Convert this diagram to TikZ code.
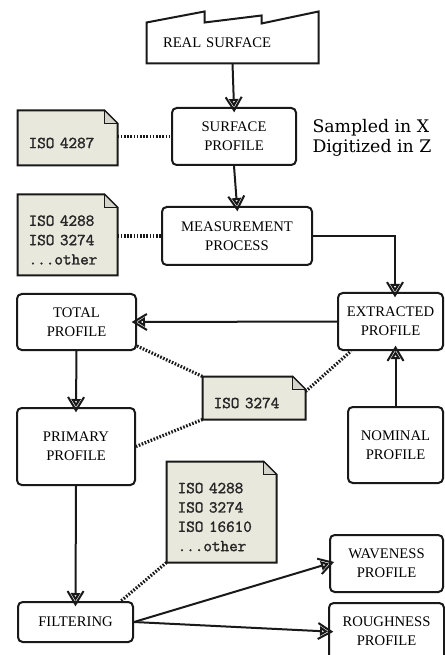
\documentclass[tikz,border=0pt]{standalone}
\usepackage{fontspec}
\setmainfont{Liberation Serif}
\setmonofont[AutoFakeBold=1.6]{Latin Modern Mono}
\newfontfamily\sidefont{DejaVu Serif}
\usetikzlibrary{arrows.meta,backgrounds}

\definecolor{notefill}{RGB}{232,232,220}
\definecolor{notefold}{RGB}{212,212,202}
\definecolor{inkline}{RGB}{25,25,25}

\tikzset{every picture/.style={line width=0.75pt}}
\tikzset{
  flowbox/.style={draw=inkline, line width=1.5pt, rounded corners=3.5pt, fill=white, align=center, inner sep=0pt, font=\fontsize{11}{14.25}\selectfont},
  isonote/.style={inner xsep=8pt, inner ysep=0pt, align=left, text=black!85, font=\ttfamily\bfseries\fontsize{12.5}{14.5}\selectfont},
  flowarrow/.style={draw=inkline, line width=1.5pt, -{Straight Barb[length=10pt,width=12pt,sep=-10pt] Triangle[open,fill=white,length=6pt,width=7pt]}},
  isolink/.style={draw=inkline, line width=2.4pt, dash pattern=on 1.2pt off 1.2pt},
}

% folded sheet behind an ISO note
\newcommand{\isosheet}[1]{%
  \filldraw[draw=inkline, fill=notefill, line width=1.5pt]
    (#1.south west) -- ([shift={(0,-10)}]#1.north west) -- ([shift={(-13,-10)}]#1.north east)
    -- ([shift={(0,3)}]#1.north east) -- (#1.south east) -- cycle;
  \filldraw[draw=inkline, fill=notefold, line width=0.6pt]
    ([shift={(-13,-10)}]#1.north east) |- ([shift={(0,3)}]#1.north east) -- cycle;
}

\begin{document}
\begin{tikzpicture}[x=0.75pt,y=0.75pt,yscale=-1,xscale=1]
\useasboundingbox (0,0) rectangle (444,655);

% Real surface
\node[inner xsep=12pt, inner ysep=0pt, minimum width=128.25pt, minimum height=30pt, text width=104.25pt, align=left, font=\fontsize{11}{14.25}\selectfont] (real) at (232.5,43) {REAL SURFACE};

% Profile boxes
\node[flowbox, minimum width=93pt, minimum height=42.75pt] (surf) at (234,136.5) {SURFACE\\PROFILE};
\node[flowbox, minimum width=112.5pt, minimum height=43.5pt] (meas) at (237,236) {MEASUREMENT\\PROCESS};
\node[flowbox, minimum width=78.75pt, minimum height=42.75pt] (extr) at (390.5,321.5) {EXTRACTED\\PROFILE};
\node[flowbox, minimum width=89.25pt, minimum height=42pt] (total) at (76.5,322) {TOTAL\\PROFILE};
\node[flowbox, minimum width=88.5pt, minimum height=57.75pt] (prim) at (76,446.5) {PRIMARY\\PROFILE};
\node[flowbox, minimum width=71.25pt, minimum height=57pt] (nom) at (395.5,445) {NOMINAL\\PROFILE};
\node[flowbox, minimum width=86.25pt, minimum height=30pt] (filt) at (75.5,622) {FILTERING};
\node[flowbox, minimum width=84.75pt, minimum height=42.75pt] (wave) at (386.5,563.5) {WAVENESS\\PROFILE};
\node[flowbox, minimum width=86.25pt, minimum height=42.75pt] (rough) at (386.5,631.5) {ROUGHNESS\\PROFILE};

% ISO notes
\node[isonote, text width=58.25pt, minimum height=33pt] (n1) at (67.5,143) {ISO 4287};
\node[isonote, text width=58.25pt, minimum height=52.5pt] (n2) at (67.5,240) {ISO 4288\\ISO 3274\\...other};
\node[isonote, text width=60.5pt, minimum height=24pt] (n3) at (254,403) {ISO 3274};
\node[isonote, text width=65.75pt, minimum height=67.5pt] (n4) at (221.5,517) {ISO 4288\\ISO 3274\\ISO 16610\\...other};

% Side text
\node[anchor=west, inner sep=0pt, align=left, font=\sidefont\fontsize{13}{15}\selectfont] (sampled) at (312,138) {Sampled in X\\Digitized in Z};

\begin{scope}[on background layer]
  \filldraw[draw=inkline, fill=white, line width=1.5pt]
    (real.south west) -- (real.north west) -- ([shift={(58,-11)}]real.north west)
    -- ([shift={(58,0)}]real.north west) -- ([shift={(115,-7)}]real.north west)
    -- ([shift={(115,1)}]real.north west) -- ([shift={(0,-11)}]real.north east)
    -- (real.south east) -- cycle;
  \isosheet{n1}
  \isosheet{n2}
  \isosheet{n3}
  \isosheet{n4}
\end{scope}

% Flow arrows
\draw[flowarrow] (real.south) -- (surf.north);
\draw[flowarrow] (surf.south) -- (meas.north);
\draw[flowarrow] (meas.east) -| ([shift={(4.5,0)}]extr.north);
\draw[flowarrow] (extr.west) -- (total.east);
\draw[flowarrow] (nom.north) -- (nom.north |- extr.south);
\draw[flowarrow] (total.south) -- (prim.north);
\draw[flowarrow] (prim.south) -- (filt.north);
\draw[flowarrow] (filt.east) -- (wave.west);
\draw[flowarrow] (filt.east) -- (rough.west);

% Dotted references
\draw[isolink] (surf.west -| n1.east) -- (surf.west);
\draw[isolink] (meas.west -| n2.east) -- (meas.west);
\draw[isolink] ([shift={(0,-5)}]total.south east) -- ([shift={(0,-10)}]n3.north west);
\draw[isolink] ([shift={(0,5)}]n3.north east) -- ([shift={(14,0)}]extr.south west);
\draw[isolink] (n3.south west) -- (prim.east);
\draw[isolink] (n4.south west) -- ([shift={(-13,0)}]filt.north east);

\end{tikzpicture}
\end{document}
